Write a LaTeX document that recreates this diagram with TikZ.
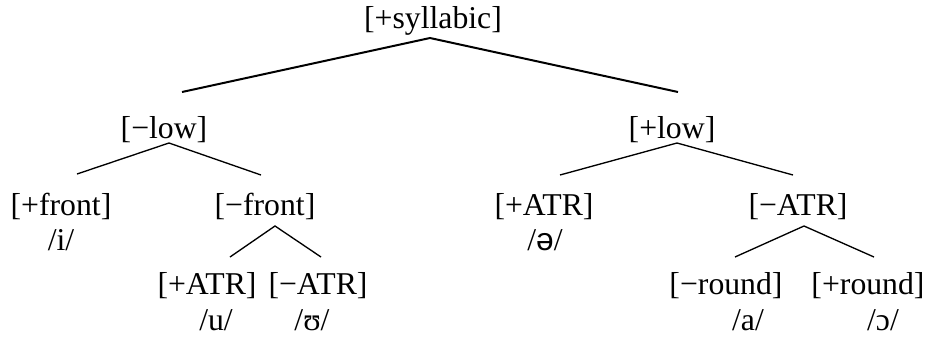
\documentclass[tikz,border=0pt]{standalone}
\usepackage{fontspec}
\setmainfont{Liberation Serif}
\newfontfamily\ipasans{Liberation Sans}
\begin{document}
\begin{tikzpicture}[x=0.75pt,y=-0.75pt,
  feat/.style={anchor=base,inner sep=0pt,font=\fontsize{23.8}{28}\selectfont},
  phon/.style={feat},
  branch/.style={line width=1pt,line join=miter},
  topbranch/.style={line width=1.5pt,line join=miter}]
\useasboundingbox (0,0) rectangle (929,337);

% feature labels
\node[feat] (syl)    at (433,28)  {[+syllabic]};
\node[feat] (mlow)   at (164,138) {[−low]};
\node[feat] (plow)   at (672,138) {[+low]};
\node[feat] (pfront) at (61,215)  {[+front]};
\node[feat] (mfront) at (265,215) {[−front]};
\node[feat] (patrA)  at (544,215) {[+ATR]};
\node[feat] (matrA)  at (798,215) {[−ATR]};
\node[feat] (patrB)  at (207,294) {[+ATR]};
\node[feat] (matrB)  at (318,294) {[−ATR]};
\node[feat] (mround) at (726,294) {[−round]};
\node[feat] (pround) at (868,294) {[+round]};

% phonemes
\node[phon] (ph-i)   at (61,250)  {/i/};
\node[phon] (ph-schwa) at (545,250) {/{\ipasans ə}/};
\node[phon] (ph-u)   at (216,330) {/u/};
\node[phon] (ph-U)   at (312,330) {/ʊ/};
\node[phon] (ph-a)   at (748,330) {/a/};
\node[phon] (ph-o)   at (883,330) {/ɔ/};

% branch points
\coordinate (syl-t) at (430,38);
\coordinate (syl-l) at (182,92);
\coordinate (syl-r) at (678,92);
\coordinate (mlow-t) at (169,143);
\coordinate (mlow-l) at (77,174);
\coordinate (mlow-r) at (261,175);
\coordinate (plow-t) at (677,143);
\coordinate (plow-l) at (560,175);
\coordinate (plow-r) at (793,175);
\coordinate (mfront-t) at (275,226);
\coordinate (mfront-l) at (230,257);
\coordinate (mfront-r) at (321,257);
\coordinate (matrA-t) at (804,226);
\coordinate (matrA-l) at (735,257);
\coordinate (matrA-r) at (874,257);

% branches
\draw[topbranch] (syl-l) -- (syl-t) -- (syl-r);
\draw[branch] (mlow-l) -- (mlow-t) -- (mlow-r);
\draw[branch] (plow-l) -- (plow-t) -- (plow-r);
\draw[branch] (mfront-l) -- (mfront-t) -- (mfront-r);
\draw[branch] (matrA-l) -- (matrA-t) -- (matrA-r);
\end{tikzpicture}
\end{document}
